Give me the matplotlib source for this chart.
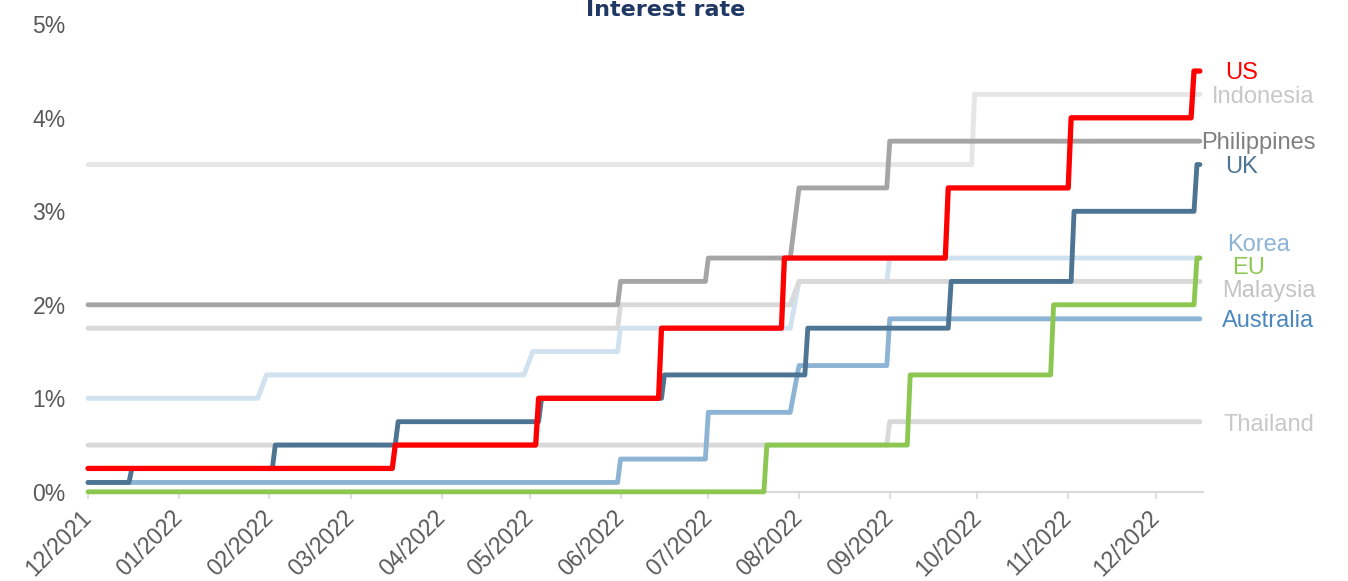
import numpy as np
import pandas as pd
import matplotlib
matplotlib.use("Agg")
import matplotlib.pyplot as plt
import matplotlib.dates as mdates
from matplotlib.ticker import FixedLocator, FuncFormatter

plt.rcParams['font.family'] = ['Liberation Sans', 'DejaVu Sans']

start = "2021-12-01"
end = "2022-12-16"

# policy rate (%) at start, then (date of change, new rate)
us_start = 0.25
us_dates = ["2022-03-16", "2022-05-04", "2022-06-15", "2022-07-27", "2022-09-21", "2022-11-02", "2022-12-14"]
us_rates = [0.5, 1.0, 1.75, 2.5, 3.25, 4.0, 4.5]

uk_start = 0.1
uk_dates = ["2021-12-16", "2022-02-03", "2022-03-17", "2022-05-05", "2022-06-16", "2022-08-04", "2022-09-22", "2022-11-03", "2022-12-15"]
uk_rates = [0.25, 0.5, 0.75, 1.0, 1.25, 1.75, 2.25, 3.0, 3.5]

eu_start = 0.0
eu_dates = ["2022-07-21", "2022-09-08", "2022-10-27", "2022-12-15"]
eu_rates = [0.5, 1.25, 2.0, 2.5]

au_start = 0.1
au_dates = ["2022-06-01", "2022-07-01", "2022-08-01", "2022-09-01"]
au_rates = [0.35, 0.85, 1.35, 1.85]

kr_start = 1.0
kr_dates = ["2022-01-31", "2022-05-02", "2022-06-01", "2022-08-01", "2022-09-01"]
kr_rates = [1.25, 1.5, 1.75, 2.25, 2.5]

ph_start = 2.0
ph_dates = ["2022-06-01", "2022-07-01", "2022-08-01", "2022-09-01"]
ph_rates = [2.25, 2.5, 3.25, 3.75]

id_start = 3.5
id_dates = ["2022-09-30"]
id_rates = [4.25]

my_start = 1.75
my_dates = ["2022-06-01", "2022-08-01"]
my_rates = [2.0, 2.25]

th_start = 0.5
th_dates = ["2022-09-01"]
th_rates = [0.75]

# drawing order: faint series first, highlighted ones on top
series = [
    ("Indonesia", id_start, id_dates, id_rates, "#E6E6E6"),
    ("Korea", kr_start, kr_dates, kr_rates, "#D0E1EF"),
    ("Malaysia", my_start, my_dates, my_rates, "#D9D9D9"),
    ("Thailand", th_start, th_dates, th_rates, "#D9D9D9"),
    ("Philippines", ph_start, ph_dates, ph_rates, "#A5A5A5"),
    ("Australia", au_start, au_dates, au_rates, "#8DB4D5"),
    ("UK", uk_start, uk_dates, uk_rates, "#4E7494"),
    ("EU", eu_start, eu_dates, eu_rates, "#8CC751"),
    ("US", us_start, us_dates, us_rates, "#FF0000"),
]

# end-of-line labels: name, colour, y position (%), x offset (px)
label_names = ["US", "Indonesia", "Philippines", "UK", "Korea", "EU", "Malaysia", "Australia", "Thailand"]
label_colors = ["#FF0000", "#C8C8C8", "#7F7F7F", "#4E7494", "#8DB4D6", "#8CC751", "#C4C4C4", "#4C88BE", "#C8C8C8"]
label_y = [4.50, 4.24, 3.755, 3.495, 2.664, 2.415, 2.169, 1.848, 0.739]
label_dx = [25, 12, 1, 25, 27, 32, 22, 22, 24]


def step_path(v0, dates, rates):
    # rate holds until the business day before each change
    xs = [pd.Timestamp(start)]
    ys = [v0]
    cur = v0
    for d, r in zip(dates, rates):
        prev = np.busday_offset(np.datetime64(d), -1, roll="forward")
        xs += [pd.Timestamp(prev), pd.Timestamp(d)]
        ys += [cur, r]
        cur = r
    xs.append(pd.Timestamp(end))
    ys.append(cur)
    return xs, ys


fig = plt.figure(figsize=(13.48, 5.81), dpi=100)
ax = fig.add_axes([88 / 1348, 89.2 / 581, 1114.8 / 1348, 467.5 / 581])

for name, v0, dates, rates, color in series:
    xs, ys = step_path(v0, dates, rates)
    lw = 3.8 if name == "US" else 3.5
    ax.plot(xs, ys, color=color, lw=lw, solid_capstyle="round",
            solid_joinstyle="round", clip_on=False)

ax.set_xlim(pd.Timestamp("2021-12-01"), pd.Timestamp("2022-12-17"))
ax.set_ylim(0, 5)

ax.xaxis.set_major_locator(mdates.MonthLocator())
ax.xaxis.set_major_formatter(mdates.DateFormatter("%m/%Y"))
ax.yaxis.set_major_locator(FixedLocator([0, 1, 2, 3, 4, 5]))
ax.yaxis.set_major_formatter(FuncFormatter(lambda v, p: "%d%%" % v))

for s in ["top", "right", "left"]:
    ax.spines[s].set_visible(False)
ax.spines["bottom"].set_color("#D9D9D9")
ax.spines["bottom"].set_linewidth(1.5)
ax.spines["bottom"].set_zorder(0)

ax.tick_params(axis="x", length=5, width=1.2, color="#D9D9D9", labelcolor="#595959",
               labelsize=16.5, pad=11)
ax.tick_params(axis="y", length=0, labelcolor="#595959", labelsize=16.5, pad=16)
for lbl in ax.get_xticklabels():
    lbl.set_rotation(45)
    lbl.set_ha("right")
    lbl.set_va("center")
    lbl.set_rotation_mode("anchor")

end_x = pd.Timestamp(end)
for name, color, y, dx in zip(label_names, label_colors, label_y, label_dx):
    ax.annotate(name, xy=(end_x, y), xytext=(dx, -8), textcoords="offset pixels",
                ha="left", va="baseline", color=color, fontsize=17,
                annotation_clip=False)

fig.text(666 / 1348, 1 - 16 / 581, "Interest rate", ha="center", va="baseline",
         fontsize=16, fontweight="bold", color="#1F3864", family="DejaVu Sans")

fig.savefig("out.png", dpi=100, facecolor="white")
